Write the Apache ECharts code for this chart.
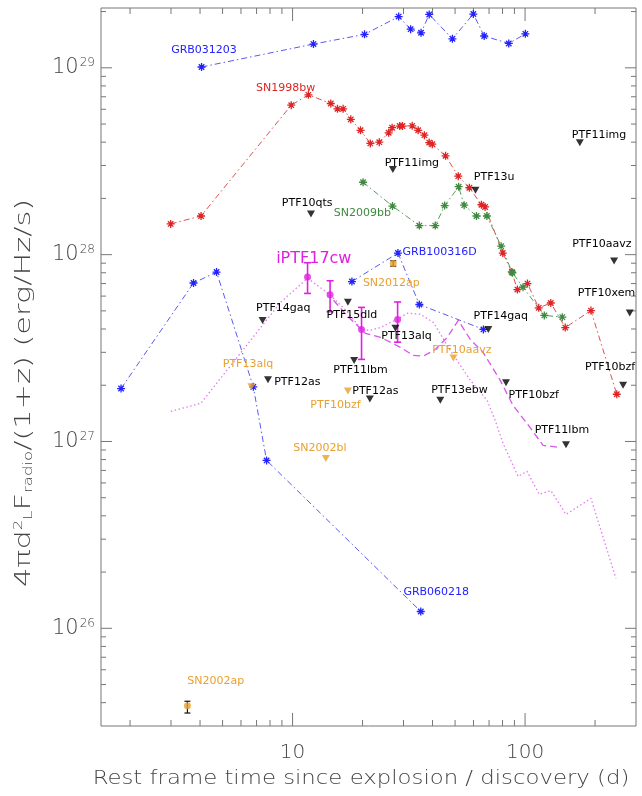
<!DOCTYPE html>
<html><head><meta charset="utf-8">
<script src="https://cdn.jsdelivr.net/npm/echarts@6/dist/echarts.min.js"></script>
<style>html,body{margin:0;padding:0;background:#fff}#c{width:642px;height:796px}</style>
</head><body><div id="c"></div>
<script>
// ---------------- data (days, erg/Hz/s) ----------------
const grb031203_x = [4.06, 12.3, 20.4, 28.6, 32.2, 35.7, 38.7, 48.7, 59.9, 66.7, 85.1, 100.3];
const grb031203_y = [1.01e29, 1.34e29, 1.51e29, 1.88e29, 1.61e29, 1.54e29, 1.93e29, 1.43e29, 1.94e29, 1.48e29, 1.35e29, 1.52e29];

const grb100316d_x = [18.0, 28.4, 35.1, 66.2];
const grb100316d_y = [7.18e27, 1.02e28, 5.41e27, 3.98e27];

const grb060218_x = [1.83, 3.75, 4.71, 6.78, 7.73, 35.6];
const grb060218_y = [1.92e27, 7.05e27, 8.07e27, 1.96e27, 7.92e26, 1.23e26];

const sn1998bw_x = [2.99, 4.04, 9.87, 11.7, 14.6, 15.6, 16.5, 17.8, 19.6, 21.6, 23.6, 25.9, 26.8, 28.9, 29.7, 32.7, 34.7, 36.9, 38.7, 39.9, 45.5, 51.6, 57.6, 64.9, 67.3, 80.2, 87.7, 92.7, 102.4, 114.5, 129, 148.9, 192, 248];
const sn1998bw_y = [1.46e28, 1.61e28, 6.31e28, 7.17e28, 6.44e28, 6.03e28, 6.03e28, 5.30e28, 4.63e28, 3.94e28, 4.00e28, 4.49e28, 4.78e28, 4.88e28, 4.88e28, 4.89e28, 4.63e28, 4.36e28, 3.98e28, 3.90e28, 3.38e28, 2.63e28, 2.28e28, 1.85e28, 1.80e28, 1.02e28, 8.08e27, 6.50e27, 7.0e27, 5.19e27, 5.51e27, 4.07e27, 5.02e27, 1.79e27];

const sn2009bb_x = [20.1, 26.9, 35.1, 41.1, 45.1, 51.8, 54.7, 61.8, 68.5, 78.9, 88.2, 98.0, 121, 144.6];
const sn2009bb_y = [2.44e28, 1.82e28, 1.43e28, 1.43e28, 1.83e28, 2.31e28, 1.84e28, 1.61e28, 1.61e28, 1.11e28, 8.0e27, 6.7e27, 4.73e27, 4.63e27];

const dotted_x = [2.995, 4.03, 6.60, 8.88, 11.6, 14.4, 17.1, 19.8, 21.6, 23.9, 28.2, 31.2, 35.4, 40.3, 47.6, 58.1, 68.7, 74.3, 80.4, 93.3, 102, 115, 129, 150, 192, 246];
const dotted_y = [1.45e27, 1.60e27, 3.48e27, 5.56e27, 7.48e27, 6.14e27, 4.98e27, 3.98e27, 3.93e27, 4.08e27, 4.51e27, 4.86e27, 4.80e27, 4.34e27, 3.08e27, 2.13e27, 1.66e27, 1.30e27, 9.77e26, 6.50e26, 6.92e26, 5.21e26, 5.47e26, 4.07e26, 4.96e26, 1.85e26];

const dashed_x = [15.0, 17.1, 20.6, 23.9, 29.1, 33.0, 36.5, 41.1, 46.3, 51.6, 58.1, 66.0, 78.1, 88.8, 105, 119.5, 141];
const dashed_y = [5.70e27, 4.73e27, 3.79e27, 3.61e27, 3.19e27, 2.89e27, 2.86e27, 3.11e27, 3.61e27, 4.45e27, 3.52e27, 3.00e27, 2.13e27, 1.56e27, 1.19e27, 9.53e26, 9.30e26];

const iptf17cw_x  = [11.6, 14.5, 19.8, 28.3];
const iptf17cw_y  = [7.6e27, 6.1e27, 3.98e27, 4.49e27];
const iptf17cw_lo = [6.2e27, 4.95e27, 2.75e27, 3.4e27];
const iptf17cw_hi = [9.05e27, 7.25e27, 5.22e27, 5.58e27];

const orangeDet_x  = [27.1, 3.53];          // SN2012ap, SN2002ap
const orangeDet_y  = [8.96e27, 3.85e25];
const orangeDet_lo = [8.67e27, 3.52e25];
const orangeDet_hi = [9.27e27, 4.07e25];

const ulBlack_x = [12.0, 27.0, 61.2, 172, 241.5, 282, 264, 150, 82.8, 43.2, 69.5, 27.7, 17.3, 18.4, 21.5, 7.84, 7.43];
const ulBlack_y = [1.65e28, 2.86e28, 2.21e28, 3.97e28, 9.25e27, 4.87e27, 2.0e27, 9.6e26, 2.06e27, 1.66e27, 3.97e27, 4.04e27, 5.56e27, 2.71e27, 1.69e27, 2.14e27, 4.44e27];

const ulOrange_x = [6.65, 17.3, 13.9, 49.2];
const ulOrange_y = [1.96e27, 1.86e27, 8.1e26, 2.80e27];

// annotation texts and their anchor (data coords)
const labelText = ['GRB031203', 'SN1998bw', 'PTF10qts', 'SN2009bb', 'PTF11img', 'PTF13u', 'PTF11img', 'PTF10aavz', 'PTF10xem', 'PTF10bzf', 'PTF11lbm', 'PTF10bzf', 'PTF13ebw', 'PTF14gaq', 'PTF10aavz', 'PTF13alq', 'PTF15dld', 'PTF11lbm', 'PTF12as', 'GRB100316D', 'SN2012ap', 'iPTF17cw', 'PTF14gaq', 'PTF13alq', 'PTF12as', 'PTF10bzf', 'SN2002bl', 'GRB060218', 'SN2002ap'];
const labelX = [4.16, 9.33, 11.56, 19.97, 32.6, 73.6, 208, 214, 224, 232, 144, 109, 52.2, 78.6, 53.5, 30.9, 18.0, 19.6, 22.7, 42.9, 26.6, 12.34, 9.12, 6.43, 10.48, 15.3, 13.1, 41.5, 4.67];
const labelY = [1.25e29, 7.76e28, 1.88e28, 1.67e28, 3.08e28, 2.60e28, 4.36e28, 1.14e28, 6.23e27, 2.50e27, 1.15e27, 1.78e27, 1.88e27, 4.68e27, 3.10e27, 3.66e27, 4.72e27, 2.40e27, 1.86e27, 1.03e28, 7.05e27, 9.45e27, 5.18e27, 2.59e27, 2.07e27, 1.56e27, 9.26e26, 1.56e26, 5.19e25];
const labelKind = ['blue', 'red', 'black', 'green', 'black', 'black', 'black', 'black', 'black', 'black', 'black', 'black', 'black', 'black', 'orange', 'black', 'black', 'black', 'black', 'blue', 'orange', 'magenta', 'black', 'orange', 'black', 'orange', 'orange', 'blue', 'orange'];

const xTickLabels = ['10', '100'];

// ---------------- styling ----------------
const FONT = 'DejaVu Sans';
const TXT = '#444';
const C = { blue: '#2222ff', blueLine: '#5a5af0', red: '#e02424', redLine: '#e05050', green: '#3f8a3f', greenLine: '#5a9a5a',
            black: '#000000', orange: '#e8a030', magenta: '#e020e0', dotted: '#e47af0', dashed: '#d855ea', axis: '#666' };
const AST = 'path://M5,0L5,10M0,5L10,5M1.6,1.6L8.4,8.4M1.6,8.4L8.4,1.6';
const DASHDOT = [6, 3, 1.5, 3];
const XMIN = 1.5, XMAX = 300, YMIN = 3e25, YMAX = 2.09e29;

const zip = (a, b) => a.map((v, i) => [v, b[i]]);

function lineSeries(xs, ys, col, lineCol) {
  return { type: 'line', data: zip(xs, ys), symbol: AST, symbolSize: 8, symbolKeepAspect: true,
    itemStyle: { color: col, borderColor: col, borderWidth: 1.3 },
    lineStyle: { color: lineCol, width: 1, type: DASHDOT }, z: 3, silent: true };
}
function errSeries(xs, ys, lo, hi, col, lw, cap) {
  return { type: 'custom', z: 4, silent: true,
    data: xs.map((v, i) => [v, ys[i], lo[i], hi[i]]),
    renderItem: function (params, api) {
      const a = api.coord([api.value(0), api.value(2)]);
      const b = api.coord([api.value(0), api.value(3)]);
      const st = { stroke: col, lineWidth: lw };
      return { type: 'group', children: [
        { type: 'line', shape: { x1: a[0], y1: a[1], x2: b[0], y2: b[1] }, style: st },
        { type: 'line', shape: { x1: a[0] - cap, y1: a[1], x2: a[0] + cap, y2: a[1] }, style: st },
        { type: 'line', shape: { x1: b[0] - cap, y1: b[1], x2: b[0] + cap, y2: b[1] }, style: st }
      ]};
    } };
}

// tick values (minor + major) for frame ticks
const xTicks = [];
for (let e = 0; e <= 2; e++) for (let m = 1; m <= 9; m++) { const v = m * Math.pow(10, e); if (v > XMIN * 1.01 && v < XMAX * 0.99) xTicks.push(v); }
const yTicks = [];
for (let e = 25; e <= 29; e++) for (let m = 1; m <= 9; m++) { const v = m * Math.pow(10, e); if (v > YMIN * 1.01 && v < YMAX * 0.99) yTicks.push([v, m === 1 ? 1 : 0]); }
const xTickData = xTicks.map(v => [v, 1e27, Math.abs(Math.log10(v) - Math.round(Math.log10(v))) < 1e-9 ? 1 : 0]);

const chart = echarts.init(document.getElementById('c'), null, { renderer: 'canvas' });
chart.setOption({
  animation: false,
  backgroundColor: '#fff',
  grid: { left: 101, right: 6, top: 8, bottom: 70, show: true, borderColor: '#777', borderWidth: 1, backgroundColor: 'transparent' },
  xAxis: { type: 'log', logBase: 10, min: XMIN, max: XMAX,
    axisLine: { show: false }, axisTick: { show: false }, splitLine: { show: false },
    axisLabel: { margin: 17, fontFamily: FONT, fontSize: 20, fontWeight: 200, color: TXT,
      formatter: v => { const l = Math.log10(v); if (Math.abs(l - Math.round(l)) > 1e-6) return ''; const s = String(Math.round(v)); return xTickLabels.indexOf(s) >= 0 ? s : ''; } } },
  yAxis: { type: 'log', logBase: 10, min: YMIN, max: YMAX,
    axisLine: { show: false }, axisTick: { show: false }, splitLine: { show: false },
    axisLabel: { margin: 6, fontFamily: FONT, color: TXT,
      formatter: v => { const l = Math.log10(v); if (Math.abs(l - Math.round(l)) > 1e-6) return ''; return '{b|10}{s|' + Math.round(l) + '}'; },
      rich: { b: { fontFamily: FONT, fontSize: 21, fontWeight: 200, color: TXT },
              s: { fontFamily: FONT, fontSize: 12, fontWeight: 200, color: TXT, verticalAlign: 'top', padding: [0, 0, 0, 1] } } } },
  graphic: [
    { type: 'text', x: 361, y: 779, scaleX: 1.2, silent: true,
      style: { text: 'Rest frame time since explosion / discovery (d)', fill: TXT, font: '200 19px ' + FONT, align: 'center', verticalAlign: 'middle' } },
    { type: 'text', x: 24, y: 393, rotation: Math.PI / 2, scaleX: 1.38, silent: true,
      style: { text: '4πd{sup|2}{sub|L}F{sub|radio}/(1+z) (erg/Hz/s)', fill: TXT, font: '200 22px ' + FONT, align: 'center', verticalAlign: 'middle',
        rich: { sup: { fontSize: 12, fontWeight: 200, fill: TXT, fontFamily: FONT, verticalAlign: 'top' },
                sub: { fontSize: 12, fontWeight: 200, fill: TXT, fontFamily: FONT, verticalAlign: 'bottom' } } } }
  ],
  series: [
    // frame ticks
    { type: 'custom', silent: true, z: 1, data: xTickData,
      renderItem: function (params, api) {
        const cs = params.coordSys; const p = api.coord([api.value(0), api.value(1)]);
        const len = api.value(2) ? 13 : 6; const st = { stroke: '#777', lineWidth: 1 };
        return { type: 'group', children: [
          { type: 'line', shape: { x1: p[0], y1: cs.y + cs.height, x2: p[0], y2: cs.y + cs.height - len }, style: st },
          { type: 'line', shape: { x1: p[0], y1: cs.y, x2: p[0], y2: cs.y + len }, style: st } ] };
      } },
    { type: 'custom', silent: true, z: 1, data: yTicks.map(t => [3, t[0], t[1]]),
      renderItem: function (params, api) {
        const cs = params.coordSys; const p = api.coord([api.value(0), api.value(1)]);
        const len = api.value(2) ? 11 : 5; const st = { stroke: '#777', lineWidth: 1 };
        return { type: 'group', children: [
          { type: 'line', shape: { x1: cs.x, y1: p[1], x2: cs.x + len, y2: p[1] }, style: st },
          { type: 'line', shape: { x1: cs.x + cs.width, y1: p[1], x2: cs.x + cs.width - len, y2: p[1] }, style: st } ] };
      } },
    lineSeries(grb031203_x, grb031203_y, C.blue, C.blueLine),
    lineSeries(grb100316d_x, grb100316d_y, C.blue, C.blueLine),
    lineSeries(grb060218_x, grb060218_y, C.blue, C.blueLine),
    lineSeries(sn1998bw_x, sn1998bw_y, C.red, C.redLine),
    lineSeries(sn2009bb_x, sn2009bb_y, C.green, C.greenLine),
    { type: 'line', data: zip(dotted_x, dotted_y), symbol: 'none', silent: true, z: 2,
      lineStyle: { color: C.dotted, width: 1.3, type: [1.5, 2.5] } },
    { type: 'line', data: zip(dashed_x, dashed_y), symbol: 'none', silent: true, z: 2,
      lineStyle: { color: C.dashed, width: 1.3, type: [7, 4] } },
    { type: 'scatter', data: zip(ulOrange_x, ulOrange_y), symbol: 'triangle', symbolRotate: 180, symbolSize: [8, 7],
      itemStyle: { color: C.orange }, silent: true, z: 4 },
    { type: 'scatter', data: zip(ulBlack_x, ulBlack_y), symbol: 'triangle', symbolRotate: 180, symbolSize: [8, 7],
      itemStyle: { color: C.black }, silent: true, z: 4 },
    errSeries(iptf17cw_x, iptf17cw_y, iptf17cw_lo, iptf17cw_hi, C.magenta, 1.6, 3.5),
    { type: 'scatter', data: zip(iptf17cw_x, iptf17cw_y), symbol: 'circle', symbolSize: 7,
      itemStyle: { color: C.magenta }, silent: true, z: 5 },
    { type: 'scatter', data: zip(orangeDet_x, orangeDet_y), symbol: 'circle', symbolSize: 7,
      itemStyle: { color: C.orange }, silent: true, z: 4 },
    errSeries(orangeDet_x, orangeDet_y, orangeDet_lo, orangeDet_hi, '#111', 1.2, 3),
    // annotations
    { type: 'custom', silent: true, z: 6, data: labelX.map((v, i) => [v, labelY[i]]),
      renderItem: function (params, api) {
        const i = params.dataIndex; const p = api.coord([api.value(0), api.value(1)]);
        const big = labelKind[i] === 'magenta';
        return { type: 'text', x: p[0], y: p[1],
          style: { text: labelText[i], fill: C[labelKind[i]], font: (big ? '16px ' : '11px ') + FONT, align: 'center', verticalAlign: 'middle' } };
      } }
  ]
});
</script></body></html>
